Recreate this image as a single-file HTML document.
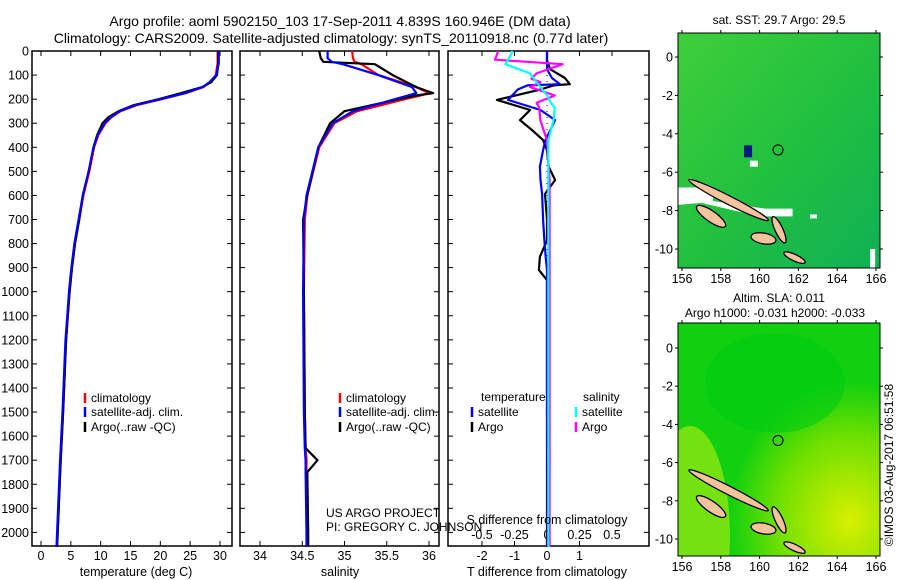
<!DOCTYPE html>
<html><head><meta charset="utf-8">
<style>
html,body{margin:0;padding:0;background:#fff;width:900px;height:580px;overflow:hidden;}
svg{display:block;font-family:"Liberation Sans",sans-serif;}
</style></head>
<body>
<svg id="fig" width="900" height="580" viewBox="0 0 900 580" xmlns="http://www.w3.org/2000/svg">
<text x="340" y="26" font-size="14" text-anchor="middle">Argo profile: aoml 5902150_103 17-Sep-2011 4.839S 160.946E (DM data)</text>
<text x="331" y="43" font-size="14" text-anchor="middle">Climatology: CARS2009. Satellite-adjusted climatology: synTS_20110918.nc (0.77d later)</text>
<g id="plots"></g>
<text transform="translate(893,465) rotate(-90)" font-size="12" text-anchor="middle">©IMOS 03-Aug-2017 06:51:58</text>
</svg>
<script>
// ---- data ----
const depthT = [0,50,100,130,150,175,200,225,250,275,300,350,400,500,600,700,800,900,1000,1100,1200,1500,1700,2000,2060];
const tempArgo = [29.7,29.7,29.5,28.5,27,23.5,19.8,15.5,13,11.3,10.3,9.4,8.8,8.0,7.0,6.4,5.7,5.2,4.8,4.5,4.2,3.7,3.3,2.8,2.7];
const tempClim = [29.6,29.6,29.3,28.3,27.2,24.3,20.3,16,13.3,11.8,10.8,9.6,8.9,8.1,7.1,6.4,5.7,5.2,4.8,4.5,4.2,3.7,3.3,2.8,2.7];
const tempSat  = [29.8,29.8,29.4,28.2,27.1,24.2,20.1,15.8,13.2,11.7,10.7,9.5,8.8,8.0,7.0,6.3,5.6,5.1,4.7,4.4,4.1,3.6,3.2,2.7,2.6];
const depthS = [0,30,45,55,100,150,175,185,200,250,300,400,600,700,1000,1500,1650,1700,1750,2000,2060];
const salArgo = [34.70,34.72,34.75,35.36,35.57,35.85,36.05,35.85,35.65,35.0,34.83,34.69,34.56,34.51,34.52,34.53,34.54,34.68,34.56,34.57,34.57];
const salClim = [35.09,35.10,35.12,35.2,35.4,35.85,36.0,35.9,35.72,35.15,34.88,34.7,34.56,34.53,34.52,34.53,34.54,34.55,34.55,34.56,34.56];
const salSat  = [34.80,34.80,34.85,34.98,35.4,35.8,35.85,35.75,35.6,35.1,34.86,34.69,34.55,34.52,34.51,34.52,34.53,34.54,34.54,34.55,34.55];
const depthDT = [0,40,76,112,138,143,160,203,245,287,330,370,412,480,536,594,700,787,855,910,952,1200,1500,1800,2060];
const dTArgo = [0,0,0.1,0.55,0.7,0.2,-0.2,-1.54,-0.52,-0.83,-0.45,-0.12,0,0.05,0.25,-0.06,0,0,-0.22,-0.25,0,0,0,0,0];
const dTSat  = [0,0,0,0.15,0.4,-0.6,-0.9,-1.2,-0.2,0.25,0.1,-0.05,-0.12,-0.22,-0.2,-0.15,-0.12,-0.08,-0.04,0,0,0,0,0.02,0.02];
const depthDS = [0,8,36,55,93,115,130,150,185,215,235,290,370,540,1000,1500,2060];
const dSArgo = [-0.38,-0.38,-0.4,0.12,-0.08,-0.12,-0.05,-0.13,0.06,-0.08,-0.06,-0.05,0,0.02,0.02,0.02,0.02];
const dSSat  = [-0.27,-0.27,-0.3,-0.32,-0.13,-0.1,-0.08,-0.05,0.0,0.03,0.06,0.05,0.01,0.01,0.01,0.01,0.01];
const yTicks = [0,100,200,300,400,500,600,700,800,900,1000,1100,1200,1300,1400,1500,1600,1700,1800,1900,2000];
const tTicks = [0,5,10,15,20,25,30];
const sTicks = [34,34.5,35,35.5,36];
const dTTicks = [-2,-1,0,1];
const dTLabels = ["-2","-1","0","1"];
const dSTicks = [-0.5,-0.25,0,0.25,0.5];
const dSLabels = ["-0.5","-0.25","0","0.25","0.5"];
const latTicks = [0,-2,-4,-6,-8,-10];
const lonTicks = [156,158,160,162,164,166];

const NS="http://www.w3.org/2000/svg";
const root=document.getElementById('plots');
function el(tag,attrs,parent,txt){const e=document.createElementNS(NS,tag);for(const k in attrs)e.setAttribute(k,attrs[k]);if(txt!==undefined)e.textContent=txt;(parent||root).appendChild(e);return e;}
const yTop=51, yBot=546;
const yD = d => 51 + d*0.2407;
function linear(d0,d1,r0,r1){return v=>r0+(v-d0)*(r1-r0)/(d1-d0);}

function panel(name,x0,x1){
  const g=el('g',{});
  
  
  const r=el('rect',{x:x0,y:yTop,width:x1-x0,height:yBot-yTop,fill:'none',stroke:'#000','stroke-width':1.5},g);
  
  
  yTicks.forEach(t=>{const y=yD(t);
    el('line',{x1:x0,x2:x0+5,y1:y,y2:y,stroke:'#000'},g);
    el('line',{x1:x1-5,x2:x1,y1:y,y2:y,stroke:'#000'},g);});
  return g;
}
function xticks(g,ticks,labels,sx,labY,top){
  ticks.forEach((t,i)=>{const x=sx(t);
    el('line',{x1:x,x2:x,y1:yBot,y2:yBot-5,stroke:'#000'},g);
    if(top)el('line',{x1:x,x2:x,y1:yTop,y2:yTop+5,stroke:'#000'},g);
    const tx=el('text',{x:x,y:labY,'font-size':12.5,'text-anchor':'middle'},g,labels?labels[i]:String(t));
    
    
  });
}
function line(g,name,xs,ds,sx,color){
  const pts=xs.map((v,i)=>sx(v).toFixed(1)+','+yD(ds[i]).toFixed(1)).join(' ');
  const p=el('polyline',{points:pts,fill:'none',stroke:color,'stroke-width':2.2,'stroke-linejoin':'round'},g);
  
  
}
function legendEntry(g,name,x,y,color,label){
  const l=el('g',{},g);
  
  
  el('line',{x1:x,x2:x,y1:y-9,y2:y+1,stroke:color,'stroke-width':2.5},l);
  el('text',{x:x+6,y:y,'font-size':12},l,label);
}

yTicks.forEach(t=>{const tx=el('text',{x:29,y:yD(t)+4.5,'font-size':12.5,'text-anchor':'end'},root,String(t));
  
  });

const sT=linear(0,30,41,220);
const g1=panel('temperature-panel',32,232);
xticks(g1,tTicks,null,sT,560,true);
line(g1,'temp-climatology',tempClim,depthT,sT,'#f00');
line(g1,'temp-argo',tempArgo,depthT,sT,'#000');
line(g1,'temp-satellite',tempSat,depthT,sT,'#00f');
legendEntry(g1,'legend-climatology',85,402,'#f00','climatology');
legendEntry(g1,'legend-satellite',85,416,'#00f','satellite-adj. clim.');
legendEntry(g1,'legend-argo',85,431,'#000','Argo(..raw -QC)');
el('text',{x:136,y:576,'font-size':12.5,'text-anchor':'middle'},g1,'temperature (deg C)');

const sS=linear(34,36,260,429);
const g2=panel('salinity-panel',240,439);
xticks(g2,sTicks,null,sS,560,true);
line(g2,'sal-climatology',salClim,depthS,sS,'#f00');
line(g2,'sal-argo',salArgo,depthS,sS,'#000');
line(g2,'sal-satellite',salSat,depthS,sS,'#00f');
legendEntry(g2,'legend-climatology-2',340,402,'#f00','climatology');
legendEntry(g2,'legend-satellite-2',340,416,'#00f','satellite-adj. clim.');
legendEntry(g2,'legend-argo-2',340,431,'#000','Argo(..raw -QC)');
el('text',{x:340,y:576,'font-size':12.5,'text-anchor':'middle'},g2,'salinity');

const sDT=linear(0,1,547,579.5);
const sDS=linear(0,0.25,547,579.5);
const g3=panel('difference-panel',448,649);
xticks(g3,dTTicks,dTLabels,sDT,560,false);
dSTicks.forEach((t,i)=>{const x=sDS(t);el('line',{x1:x,x2:x,y1:yTop,y2:yTop+5,stroke:'#000'},g3);
  const tx=el('text',{x:x,y:539,'font-size':12.5,'text-anchor':'middle'},g3,dSLabels[i]);
  
  });
el('line',{x1:547,x2:547,y1:yTop,y2:yBot,stroke:'#000','stroke-dasharray':'1 5'},g3);
line(g3,'dT-argo',dTArgo,depthDT,sDT,'#000');
line(g3,'dT-satellite',dTSat,depthDT,sDT,'#00f');
line(g3,'dS-argo',dSArgo,depthDS,sDS,'#f0f');
line(g3,'dS-satellite',dSSat,depthDS,sDS,'#0ff');
el('text',{x:481,y:401,'font-size':12},g3,'temperature');
el('text',{x:583,y:401,'font-size':12},g3,'salinity');
legendEntry(g3,'legend-t-satellite',472,416,'#00f','satellite');
legendEntry(g3,'legend-t-argo',472,431,'#000','Argo');
legendEntry(g3,'legend-s-satellite',576,416,'#0ff','satellite');
legendEntry(g3,'legend-s-argo',576,431,'#f0f','Argo');
el('text',{x:547,y:524,'font-size':12.5,'text-anchor':'middle'},g3,'S difference from climatology');
el('text',{x:547,y:576,'font-size':12.5,'text-anchor':'middle'},g3,'T difference from climatology');
el('text',{x:326,y:517,'font-size':12},root,'US ARGO PROJECT');
el('text',{x:326,y:531,'font-size':12},root,'PI: GREGORY C. JOHNSON');

const islands=[
 [158.4,-7.45,2.3,0.22,27],[157.5,-8.3,0.9,0.28,35],[160.2,-9.45,0.65,0.28,10],[161.0,-9.0,0.2,0.75,-25],[161.8,-10.45,0.6,0.17,25]];
function map(name,top,bot,lat0,latN,title1,title2,yellow){
  const x0=678,x1=880;
  const sx=linear(156,166,682,876), sy=linear(0,-10,lat0,latN);
  const g=el('g',{});
  
  
  const id=name+'-grad', cid=name+'-clip';
  const defs=el('defs',{},g);
  const cp=el('clipPath',{id:cid},defs);
  el('rect',{x:x0,y:top,width:x1-x0,height:bot-top},cp);
  if(!yellow){
    const lg=el('linearGradient',{id:id,x1:0,y1:0,x2:1,y2:1},defs);
    el('stop',{offset:0,'stop-color':'#3fcf3a'},lg);el('stop',{offset:0.5,'stop-color':'#22c13e'},lg);el('stop',{offset:1,'stop-color':'#10b055'},lg);
  }else{
    const lg=el('radialGradient',{id:id,cx:0.85,cy:0.85,r:0.6},defs);
    el('stop',{offset:0,'stop-color':'#d8f000'},lg);el('stop',{offset:0.6,'stop-color':'#70e000'},lg);el('stop',{offset:1,'stop-color':'#10d010'},lg);
  }
  const c=el('g',{'clip-path':'url(#'+cid+')'},g);
  el('rect',{x:x0,y:top,width:x1-x0,height:bot-top,fill:'url(#'+id+')'},c);
  if(yellow){
    el('ellipse',{cx:690,cy:bot-20,rx:40,ry:110,fill:'#b8ec10',opacity:0.6},c);
    el('ellipse',{cx:775,cy:top+60,rx:70,ry:50,fill:'#00cc10',opacity:0.6},c);
  } else {
    el('polygon',{points:`${x0},${sy(-6.8)} ${sx(157.6)},${sy(-6.8)} ${sx(157.6)},${sy(-7.5)} ${sx(160.3)},${sy(-7.9)} ${sx(161.7)},${sy(-7.9)} ${sx(161.7)},${sy(-8.3)} ${sx(160)},${sy(-8.3)} ${sx(157)},${sy(-7.6)} ${x0},${sy(-7.7)}`,fill:'#fff'},c);
    el('rect',{x:sx(159.2),y:sy(-4.6),width:8,height:12,fill:'#001a80'},c);
    el('rect',{x:sx(159.5),y:sy(-5.4),width:8,height:6,fill:'#fff'},c);
    el('rect',{x:sx(165.7),y:sy(-10),width:5,height:20,fill:'#fff'},c);
    el('rect',{x:sx(162.6),y:sy(-8.2),width:7,height:4,fill:'#fff'},c);
  }
  islands.forEach(p=>{const e=el('ellipse',{cx:sx(p[0]),cy:sy(p[1]),rx:(sx(p[2])-sx(0)),ry:(sy(0)-sy(p[3])),transform:`rotate(${p[4]} ${sx(p[0])} ${sy(p[1])})`,fill:'#f5c49c',stroke:'#000','stroke-width':1.3},c);
    
    });
  el('circle',{cx:sx(160.95),cy:sy(-4.84),r:5,fill:'none',stroke:'#000','stroke-width':1},g);
  el('rect',{x:x0,y:top,width:x1-x0,height:bot-top,fill:'none',stroke:'#000'},g);
  latTicks.forEach(t=>{const y=sy(t);el('line',{x1:x0-3,x2:x0,y1:y,y2:y,stroke:'#000'},g);el('line',{x1:x1,x2:x1+3,y1:y,y2:y,stroke:'#000'},g);
    el('text',{x:673,y:y+4.5,'font-size':12.5,'text-anchor':'end'},g,String(t));});
  lonTicks.forEach(t=>{const x=sx(t);el('line',{x1:x,x2:x,y1:bot,y2:bot+3,stroke:'#000'},g);el('line',{x1:x,x2:x,y1:top-3,y2:top,stroke:'#000'},g);
    el('text',{x:x,y:bot+15,'font-size':12.5,'text-anchor':'middle'},g,String(t));});
  if(title2){el('text',{x:779,y:top-21,'font-size':12,'text-anchor':'middle'},g,title1);el('text',{x:775,y:top-6,'font-size':12,'text-anchor':'middle'},g,title2);}
  else el('text',{x:779,y:top-9,'font-size':12,'text-anchor':'middle'},g,title1);
}
map('sst-map',33,268,57,249,'sat. SST: 29.7 Argo: 29.5',null,false);
map('sla-map',323,556,348,539,'Altim. SLA: 0.011','Argo h1000: -0.031 h2000: -0.033',true);
</script>
</body></html>
